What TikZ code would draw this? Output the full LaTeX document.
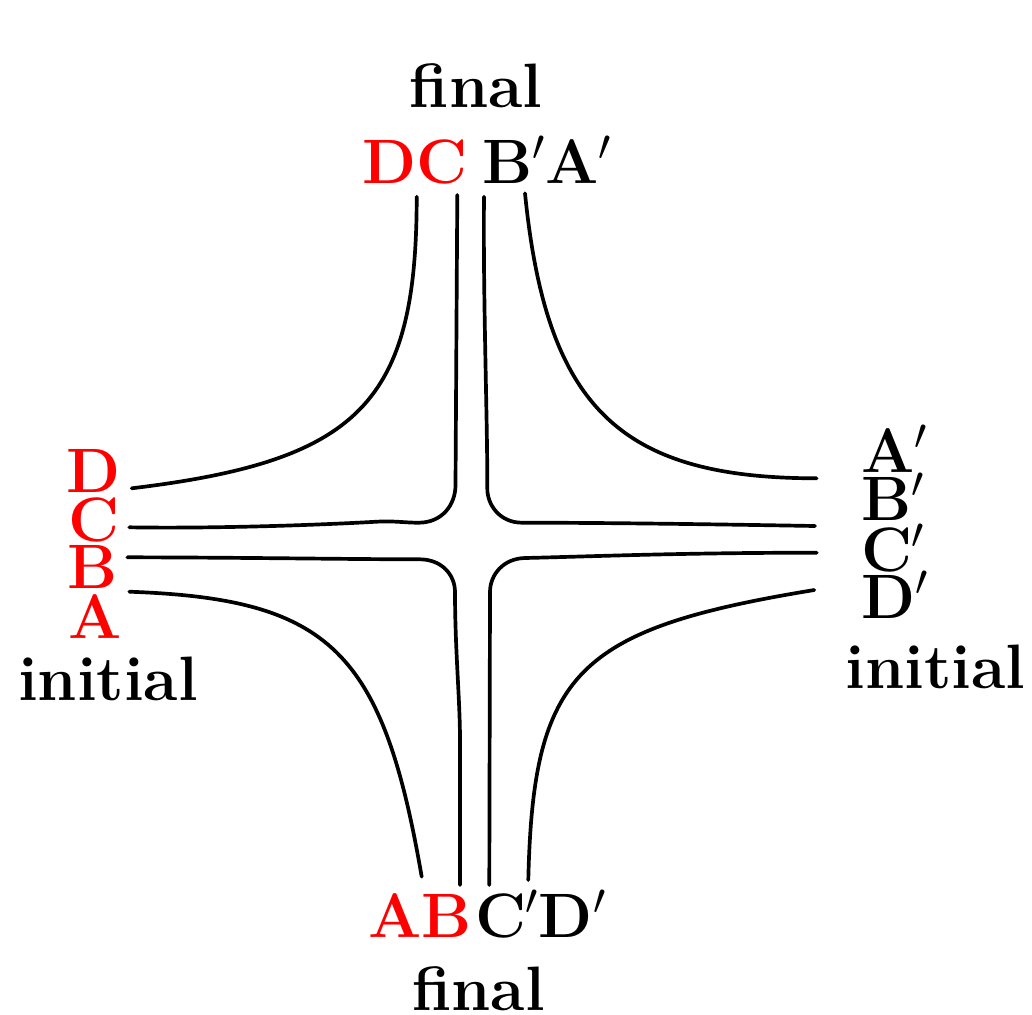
\RequirePackage{fix-cm}
\documentclass[tikz,border=0pt]{standalone}
\begin{document}
\begin{tikzpicture}[x=0.02cm, y=-0.02cm,
  lbl/.style={font=\fontsize{35.7}{40}\selectfont\bfseries, inner sep=0pt, outer sep=0pt},
  trk/.style={line width=2.1pt, line cap=round, line join=round}]
\useasboundingbox (0,0) rectangle (1032,1015);

% ---- labels: top (final) ----
\node[lbl] (topfinal) at (476,85.5) {final};
\node[lbl, anchor=base west, text=red] (topDC) at (362,183) {DC};
\node[lbl, anchor=base west] (topBA) at (482,183) {$\mathbf{B}'\mathbf{A}'$};

% ---- labels: left (initial) ----
\node[lbl, anchor=base, text=red] (lD) at (94,492) {D};
\node[lbl, anchor=base, text=red] (lC) at (94,541) {C};
\node[lbl, anchor=base, text=red] (lB) at (93,588) {B};
\node[lbl, anchor=base, text=red] (lA) at (95,638) {A};
\node[lbl, anchor=base] (linit) at (108,700) {initial};

% ---- labels: right (initial) ----
\node[lbl, anchor=base west] (rA) at (861,472) {$\mathbf{A}'$};
\node[lbl, anchor=base west] (rB) at (861,520) {$\mathbf{B}'$};
\node[lbl, anchor=base west] (rC) at (861,571) {$\mathbf{C}'$};
\node[lbl, anchor=base west] (rD) at (861,618) {$\mathbf{D}'$};
\node[lbl, anchor=base] (rinit) at (935.5,688) {initial};

% ---- labels: bottom (final) ----
\node[lbl, anchor=base west, text=red] (botAB) at (368,937) {AB};
\node[lbl, anchor=base west] (botCD) at (475,937) {$\mathbf{C}'\mathbf{D}'$};
\node[lbl, anchor=base] (botfinal) at (478.5,1010) {final};

% ---- tracks ----
% D: left -> top
\draw[trk] (131.7,488.3) .. controls (359.7,460.9) and (416.7,402.5) .. (416.7,196.7);
% C: left -> top, rounded turn at the centre
\draw[trk] (129.3,527.3) .. controls (200,528.5) and (300,526) .. (376.7,521.7)
  .. controls (395,520.7) and (405,522.8) .. (419,522.7)
  .. controls (442,522.5) and (455.5,505) .. (455.5,485) -- (457.3,195);
% B': top -> right
\draw[trk] (484,196.7) .. controls (483,300) and (487.5,420) .. (487.3,488)
  .. controls (487,505) and (500,522.7) .. (522,522.7)
  .. controls (600,522.7) and (700,524) .. (815,526);
% A': top -> right
\draw[trk] (525,193.3) .. controls (546.4,407) and (619.3,478.3) .. (816.7,478.3);
% B: left -> bottom
\draw[trk] (127.3,557.3) .. controls (250,557.5) and (350,559.3) .. (420,559.3)
  .. controls (442,559.5) and (455,575) .. (455,592)
  .. controls (455,650) and (460,700) .. (460,740) -- (460,885);
% C': right -> bottom
\draw[trk] (816.7,552.7) .. controls (680,552.7) and (590,556.5) .. (525,558)
  .. controls (503,558.5) and (490,575) .. (490,592) -- (489.3,885);
% A: left -> bottom
\draw[trk] (129.3,591.7) .. controls (330,598.9) and (382.6,650.2) .. (421.7,876.7);
% D': right -> bottom
\draw[trk] (814.3,590) .. controls (576.1,629.1) and (533.1,672.6) .. (528.3,880);
\end{tikzpicture}
\end{document}
